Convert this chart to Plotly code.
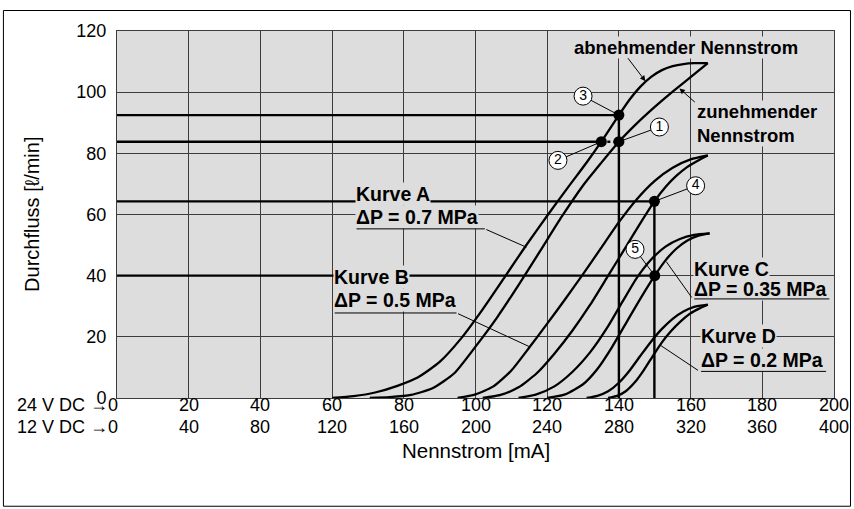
import plotly.graph_objects as go

# ---------------- data (x = Nennstrom on the 24 V DC scale [mA], y = Durchfluss [l/min]) ----------------
a_dec_x = [60, 66, 72, 78, 84, 90, 96, 102, 108, 114, 120, 126, 131, 135.1, 140, 143, 146, 149, 152, 155, 158, 161, 164.8]
a_dec_y = [0, 0.6, 1.8, 3.9, 6.8, 11.8, 19.5, 29, 39.3, 49.7, 59.6, 69.2, 77, 83.8, 92.5, 97.6, 101.8, 105, 107.2, 108.5, 109.2, 109.5, 109.5]
a_inc_x = [70.5, 76, 82, 88, 94, 100, 106, 112, 118, 124, 130, 135, 140, 145, 150, 155, 160, 164.8]
a_inc_y = [0, 0.3, 1.0, 3.2, 8.0, 16.8, 26.3, 36.9, 48.0, 59.2, 69.5, 76.8, 83.8, 89.8, 95.2, 100.2, 104.9, 109.5]

b_dec_x = [95, 100, 105, 110, 115, 120, 125, 130, 135, 140, 145, 150, 155, 160, 164.8]
b_dec_y = [0, 1.2, 3.8, 9.0, 16.5, 24.3, 32.3, 40.5, 49, 57.5, 65, 71, 75.3, 78, 79.3]
b_inc_x = [102, 107, 112, 117, 122, 127, 132, 137, 142, 146, 149.9, 153, 156, 159, 162, 164.8]
b_inc_y = [0, 1.0, 3.5, 8.0, 14.5, 22, 30.5, 40, 49.5, 57.2, 64.3, 69.0, 72.6, 75.5, 77.6, 79.3]

c_dec_x = [112, 117, 122, 127, 132, 137, 141, 145, 149, 153, 157, 161, 165.3]
c_dec_y = [0, 1.2, 3.8, 8.5, 15, 23.5, 31.5, 39.3, 45.3, 49.5, 52, 53.3, 53.8]
c_inc_x = [120, 125, 130, 134, 138, 142, 146, 150, 153, 156, 159, 162, 165.3]
c_inc_y = [0, 1.2, 4.5, 9.5, 16.5, 24.5, 32.5, 40, 45, 48.8, 51.4, 53, 53.8]

d_dec_x = [131, 134, 137, 140, 143, 146, 149, 152, 155, 158, 161, 164.8]
d_dec_y = [0, 0.7, 2.2, 5.0, 9.0, 13.8, 18.5, 22.6, 25.9, 28.3, 29.8, 30.5]
d_inc_x = [137, 139.5, 142, 144.5, 147, 149.5, 152, 154.5, 157, 160, 162.5, 164.8]
d_inc_y = [0, 0.7, 2.3, 5.2, 9.2, 13.8, 18.2, 21.8, 24.8, 27.7, 29.3, 30.5]

# axis labels
x_ticks = [20, 40, 60, 80, 100, 120, 140, 160, 180, 200]
x_labels_24 = ["20", "40", "60", "80", "100", "120", "140", "160", "180", "200"]
x_labels_12 = ["40", "80", "120", "160", "200", "240", "280", "320", "360", "400"]
y_ticks = [0, 20, 40, 60, 80, 100, 120]

# operating points 1..5
pt_names = ["1", "2", "3", "4", "5"]
pt_x = [140, 135.1, 140, 149.9, 150]
pt_y = [83.8, 83.8, 92.5, 64.3, 40]
lbl_x = [151.3, 123, 130, 161.4, 144.5]
lbl_y = [88.6, 77.7, 98.7, 69.4, 48.6]

# curve captions
kurve_names = ["Kurve A", "Kurve B", "Kurve C", "Kurve D"]
kurve_dp = ["\u0394P = 0.7 MPa", "\u0394P = 0.5 MPa", "\u0394P = 0.35 MPa", "\u0394P = 0.2 MPa"]
cap_x = [66.4, 60.3, 160.6, 162.5]
cap_name_y = [66.8, 39.7, 42.2, 20.4]
cap_dp_y = [59.1, 32.0, 35.6, 12.4]
ul_y = [55.3, 27.8, 32.4, 8.7]
ul_x_end = [102.6, 94.7, 198.7, 197.8]
lead_from_right = [True, True, False, False]
lead_x = [114.2, 115.0, 153.2, 151.5]
lead_y = [49.3, 16.8, 44.6, 17.3]

# hysteresis captions
abn_text = "abnehmender Nennstrom"
abn_pos = [158.8, 114.6]
abn_arrow = [142.2, 111.6, 147.4, 103.6]
zun_text = "zunehmender<br>Nennstrom"
zun_pos = [161.6, 89.6]
zun_arrow = [161.6, 96.3, 156.9, 101.2]

# ---------------- figure ----------------
W, H = 854, 509
L, R, T, B = 116.7, 834.5, 30.5, 397.7
PW, PH = R - L, B - T
BG = "#dddddd"
GRID = "#3c3c3c"
FONT = "Liberation Sans, Arial, Helvetica, sans-serif"


def px_x(p):
    return (p - L) / PW


def px_y(p):
    return (B - p) / PH


fig = go.Figure()
curve_line = dict(color="black", width=2.3, shape="spline", smoothing=0.6)

# guide lines for the operating points
guide = dict(color="black", width=2.4)
for i in [2, 1, 3, 4]:
    fig.add_trace(go.Scatter(x=[0, pt_x[i]], y=[pt_y[i], pt_y[i]], mode="lines", line=guide, hoverinfo="skip"))
fig.add_trace(go.Scatter(x=[pt_x[1], pt_x[0]], y=[pt_y[0], pt_y[0]], mode="lines",
                         line=dict(color="black", width=2.4, dash="dot"), hoverinfo="skip"))
fig.add_trace(go.Scatter(x=[pt_x[2], pt_x[2]], y=[0, pt_y[2]], mode="lines", line=guide, hoverinfo="skip"))
fig.add_trace(go.Scatter(x=[pt_x[3], pt_x[3]], y=[0, pt_y[3]], mode="lines", line=guide, hoverinfo="skip"))

for xs, ys in [(a_dec_x, a_dec_y), (a_inc_x, a_inc_y), (b_dec_x, b_dec_y), (b_inc_x, b_inc_y),
               (c_dec_x, c_dec_y), (c_inc_x, c_inc_y), (d_dec_x, d_dec_y), (d_inc_x, d_inc_y)]:
    fig.add_trace(go.Scatter(x=xs, y=ys, mode="lines", line=curve_line, hoverinfo="skip"))

# leaders from number labels to points
for i in range(5):
    fig.add_trace(go.Scatter(x=[lbl_x[i], pt_x[i]], y=[lbl_y[i], pt_y[i]], mode="lines",
                             line=dict(color="black", width=1), hoverinfo="skip"))

# points
fig.add_trace(go.Scatter(x=pt_x, y=pt_y, mode="markers",
                         marker=dict(color="black", size=11), hoverinfo="skip"))
# circled numbers
fig.add_trace(go.Scatter(x=lbl_x, y=lbl_y, mode="markers+text", text=pt_names,
                         textposition="middle center",
                         textfont=dict(family=FONT, size=14, color="black"),
                         marker=dict(color="white", size=18, line=dict(color="black", width=1)),
                         hoverinfo="skip"))

# curve captions
for i in range(4):
    fig.add_annotation(x=cap_x[i], y=cap_name_y[i], xref="x", yref="y", text="<b>" + kurve_names[i] + "</b>",
                       showarrow=False, xanchor="left", yanchor="middle", bgcolor=BG, borderpad=0,
                       font=dict(family=FONT, size=19.5, color="black"))
    fig.add_annotation(x=cap_x[i], y=cap_dp_y[i], xref="x", yref="y", text="<b>" + kurve_dp[i] + "</b>",
                       showarrow=False, xanchor="left", yanchor="middle", bgcolor=BG, borderpad=0,
                       font=dict(family=FONT, size=19.5, color="black"))

# underlines and leaders (headless arrows, so they sit above the caption backgrounds)
for i in range(4):
    fig.add_annotation(x=ul_x_end[i], y=ul_y[i], ax=cap_x[i], ay=ul_y[i], xref="x", yref="y",
                       axref="x", ayref="y", text="", showarrow=True, arrowhead=0, arrowwidth=1,
                       arrowcolor="black", standoff=0, startstandoff=0)
    sx = ul_x_end[i] if lead_from_right[i] else cap_x[i]
    fig.add_annotation(x=lead_x[i], y=lead_y[i], ax=sx, ay=ul_y[i], xref="x", yref="y",
                       axref="x", ayref="y", text="", showarrow=True, arrowhead=0, arrowwidth=1,
                       arrowcolor="black", standoff=0, startstandoff=0)

# hysteresis captions
fig.add_annotation(x=abn_pos[0], y=abn_pos[1], xref="x", yref="y", text="<b>" + abn_text + "</b>",
                   showarrow=False, bgcolor=BG, borderpad=0, font=dict(family=FONT, size=18.5, color="black"))
fig.add_annotation(x=abn_arrow[2], y=abn_arrow[3], ax=abn_arrow[0], ay=abn_arrow[1], xref="x", yref="y",
                   axref="x", ayref="y", text="", showarrow=True, arrowhead=2, arrowsize=1.1, arrowwidth=1,
                   arrowcolor="black", standoff=0)
fig.add_annotation(x=zun_pos[0], y=zun_pos[1], xref="x", yref="y", text="<b>" + zun_text + "</b>",
                   showarrow=False, xanchor="left", align="left", bgcolor=BG, borderpad=0,
                   font=dict(family=FONT, size=18.5, color="black"))
fig.add_annotation(x=zun_arrow[2], y=zun_arrow[3], ax=zun_arrow[0], ay=zun_arrow[1], xref="x", yref="y",
                   axref="x", ayref="y", text="", showarrow=True, arrowhead=2, arrowsize=1.1, arrowwidth=1,
                   arrowcolor="black", standoff=0)

# x-axis label rows
TICKF = dict(family=FONT, size=18, color="black")
row1_y = px_y(417)
row2_y = px_y(439)
fig.add_annotation(x=0, y=row1_y, xref="x", yref="paper", text="24 V DC \u21920", showarrow=False,
                   xanchor="right", xshift=3, font=TICKF)
fig.add_annotation(x=0, y=row2_y, xref="x", yref="paper", text="12 V DC \u21920", showarrow=False,
                   xanchor="right", xshift=3, font=TICKF)
for xv, t1, t2 in zip(x_ticks, x_labels_24, x_labels_12):
    fig.add_annotation(x=xv, y=row1_y, xref="x", yref="paper", text=t1, showarrow=False, font=TICKF)
    fig.add_annotation(x=xv, y=row2_y, xref="x", yref="paper", text=t2, showarrow=False, font=TICKF)
fig.add_annotation(x=100, y=px_y(464), xref="x", yref="paper", text="Nennstrom [mA]", showarrow=False,
                   font=dict(family=FONT, size=20.5, color="black"))
fig.add_annotation(x=px_x(31), y=0.5, xref="paper", yref="paper", text="Durchfluss [\u2113/min]", textangle=-90,
                   xanchor="center", yanchor="middle",
                   showarrow=False, font=dict(family=FONT, size=20, color="black"))

# outer frame
fig.add_shape(type="rect", xref="paper", yref="paper", x0=px_x(3), x1=px_x(851), y0=px_y(506), y1=px_y(10),
              line=dict(color="black", width=1), fillcolor="rgba(0,0,0,0)", layer="below")

fig.update_layout(
    width=W, height=H, showlegend=False,
    margin=dict(l=L, r=W - R, t=T, b=H - B, pad=0),
    paper_bgcolor="white", plot_bgcolor=BG,
    font=dict(family=FONT, color="black"),
    xaxis=dict(range=[0, 200], tick0=0, dtick=20, showgrid=True, gridcolor=GRID, gridwidth=1,
               showticklabels=False, ticks="", zeroline=False, showline=True, mirror=True,
               linecolor=GRID, linewidth=1, fixedrange=True),
    yaxis=dict(range=[0, 120], tickvals=y_ticks, showgrid=True, gridcolor=GRID, gridwidth=1,
               ticks="outside", ticklen=6, tickcolor="rgba(0,0,0,0)",
               tickfont=TICKF,
               zeroline=False, showline=True, mirror=True, linecolor=GRID, linewidth=1, fixedrange=True),
)

fig.write_html("out.html", config={"displayModeBar": False, "staticPlot": True},
               post_script="document.body.style.margin='0px';document.body.style.padding='0px';")
